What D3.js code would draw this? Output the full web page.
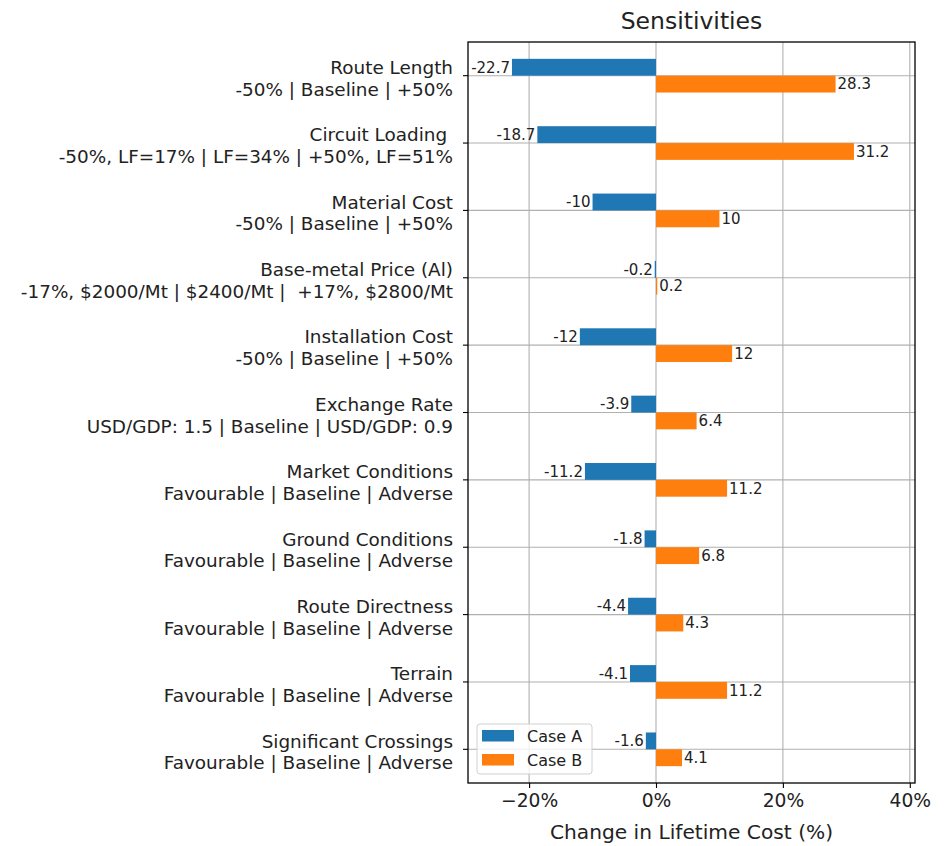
<!DOCTYPE html>
<html>
<head>
<meta charset="utf-8">
<script src="https://cdn.jsdelivr.net/npm/d3@7"></script>
<style>
  body { margin: 0; background: #fff; }
  svg text { font-family: "DejaVu Sans", sans-serif; fill: #222; }
</style>
</head>
<body>
<svg id="chart" width="950" height="846"></svg>
<script>
// sensitivity names (first line of each tick label)
const factors = [
    "Route Length", "Circuit Loading ", "Material Cost", "Base-metal Price (Al)",
    "Installation Cost", "Exchange Rate", "Market Conditions", "Ground Conditions",
    "Route Directness", "Terrain", "Significant Crossings"
];
// scenario descriptions (second line)
const scenarios = [
    "-50% | Baseline | +50%",
    "-50%, LF=17% | LF=34% | +50%, LF=51%",
    "-50% | Baseline | +50%",
    "-17%, $2000/Mt | $2400/Mt |  +17%, $2800/Mt",
    "-50% | Baseline | +50%",
    "USD/GDP: 1.5 | Baseline | USD/GDP: 0.9",
    "Favourable | Baseline | Adverse",
    "Favourable | Baseline | Adverse",
    "Favourable | Baseline | Adverse",
    "Favourable | Baseline | Adverse",
    "Favourable | Baseline | Adverse"
];
const caseA = [-22.7, -18.7, -10, -0.2, -12, -3.9, -11.2, -1.8, -4.4, -4.1, -1.6];
const caseB = [28.3, 31.2, 10, 0.2, 12, 6.4, 11.2, 6.8, 4.3, 11.2, 4.1];
const xTicks = [-20, 0, 20, 40];

const svg = d3.select("#chart");
const plotL = 468, plotR = 915, plotT = 42, plotB = 783;

const x = d3.scaleLinear().domain([-29.63, 40.82]).range([plotL, plotR]);
const y = d3.scaleBand().domain(factors).range([plotT, plotB]).padding(0);
const barH = y.bandwidth() * 0.25;
const mid = d => y(d) + y.bandwidth() / 2;

// grid lines
svg.append("g").selectAll("line")
    .data(xTicks)
    .join("line")
    .attr("x1", d => x(d)).attr("x2", d => x(d))
    .attr("y1", plotT).attr("y2", plotB)
    .attr("stroke", "#b0b0b0").attr("stroke-width", 1.1);

svg.append("g").selectAll("line")
    .data(factors)
    .join("line")
    .attr("x1", plotL).attr("x2", plotR)
    .attr("y1", d => mid(d)).attr("y2", d => mid(d))
    .attr("stroke", "#b0b0b0").attr("stroke-width", 1.1);

// bars - case A sits above the tick, case B below
svg.append("g").selectAll("rect")
    .data(factors)
    .join("rect")
    .attr("x", (d, i) => x(Math.min(0, caseA[i])))
    .attr("y", d => mid(d) - barH)
    .attr("width", (d, i) => Math.abs(x(caseA[i]) - x(0)))
    .attr("height", barH)
    .attr("fill", "#1f77b4");

svg.append("g").selectAll("rect")
    .data(factors)
    .join("rect")
    .attr("x", (d, i) => x(Math.min(0, caseB[i])))
    .attr("y", d => mid(d))
    .attr("width", (d, i) => Math.abs(x(caseB[i]) - x(0)))
    .attr("height", barH)
    .attr("fill", "#ff7f0e");

// value labels at bar ends
svg.append("g").selectAll("text")
    .data(factors)
    .join("text")
    .attr("x", (d, i) => x(caseA[i]) - 2)
    .attr("y", d => mid(d) - barH / 2)
    .attr("dy", "0.35em")
    .attr("text-anchor", "end")
    .style("font-size", "15px")
    .text((d, i) => caseA[i]);

svg.append("g").selectAll("text")
    .data(factors)
    .join("text")
    .attr("x", (d, i) => x(caseB[i]) + 2)
    .attr("y", d => mid(d) + barH / 2)
    .attr("dy", "0.35em")
    .attr("text-anchor", "start")
    .style("font-size", "15px")
    .text((d, i) => caseB[i]);

// frame
svg.append("rect")
    .attr("x", plotL).attr("y", plotT)
    .attr("width", plotR - plotL).attr("height", plotB - plotT)
    .attr("fill", "none").attr("stroke", "#000").attr("stroke-width", 1.3);

// x axis
const xAxis = svg.append("g")
    .attr("transform", `translate(0,${plotB})`)
    .call(d3.axisBottom(x).tickValues(xTicks).tickSize(5).tickPadding(6)
        .tickFormat(d => (d < 0 ? "\u2212" + Math.abs(d) : d) + "%"));
xAxis.select(".domain").remove();
xAxis.selectAll("text").style("font-size", "18.7px").attr("fill", "#222");
xAxis.selectAll("line").attr("stroke-width", 1.1);

svg.append("text")
    .attr("x", (plotL + plotR) / 2).attr("y", 839)
    .attr("text-anchor", "middle")
    .style("font-size", "20.2px")
    .text("Change in Lifetime Cost (%)");

// y axis with two-line labels
const yAxis = svg.append("g")
    .attr("transform", `translate(${plotL},0)`)
    .call(d3.axisLeft(y).tickSize(5).tickFormat(""));
yAxis.select(".domain").remove();
yAxis.selectAll("line").attr("stroke-width", 1.1);

const yLab = svg.append("g").selectAll("text")
    .data(factors)
    .join("text")
    .attr("text-anchor", "end")
    .attr("xml:space", "preserve")
    .style("white-space", "pre")
    .style("font-size", "18.4px");
yLab.append("tspan")
    .attr("x", 453).attr("y", d => mid(d) - 1.7)
    .text(d => d);
yLab.append("tspan")
    .attr("x", 453).attr("y", d => mid(d) + 20)
    .text((d, i) => scenarios[i]);

// title
svg.append("text")
    .attr("x", (plotL + plotR) / 2).attr("y", 28.5)
    .attr("text-anchor", "middle")
    .style("font-size", "23.5px")
    .text("Sensitivities");

// legend
const legend = svg.append("g");
legend.append("rect")
    .attr("x", 477).attr("y", 724).attr("width", 115).attr("height", 50)
    .attr("rx", 3)
    .attr("fill", "rgba(255,255,255,0.8)").attr("stroke", "#d0d0d0");
const series = [{ name: "Case A", color: "#1f77b4" }, { name: "Case B", color: "#ff7f0e" }];
const leg = legend.selectAll("g.item")
    .data(series)
    .join("g")
    .attr("class", "item")
    .attr("transform", (d, i) => `translate(482,${730 + i * 24})`);
leg.append("rect")
    .attr("width", 32).attr("height", 11.5)
    .attr("fill", d => d.color);
leg.append("text")
    .attr("x", 45).attr("y", 6).attr("dy", "0.35em")
    .style("font-size", "16px")
    .text(d => d.name);
</script>
</body>
</html>
